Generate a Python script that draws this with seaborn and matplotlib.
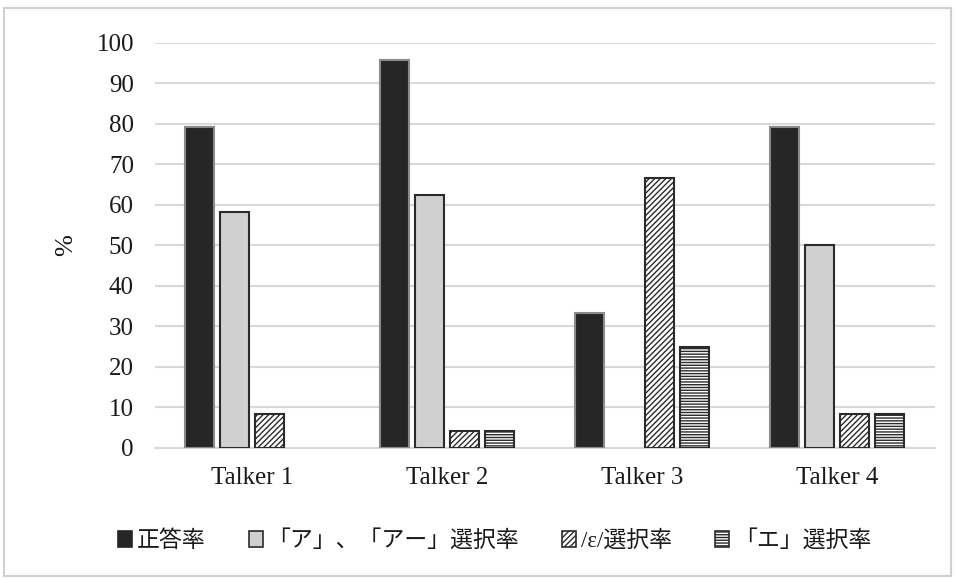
import matplotlib
matplotlib.use("Agg")
import matplotlib.pyplot as plt
from matplotlib.patches import Patch, Rectangle
import seaborn as sns
import pandas as pd

talkers = ["Talker 1", "Talker 2", "Talker 3", "Talker 4"]
series = ["正答率", "「ア」、「アー」選択率", "/ε/選択率", "「エ」選択率"]
correct = [79.2, 95.8, 33.3, 79.2]
a_rate = [58.3, 62.5, 0.0, 50.0]
eps_rate = [8.3, 4.2, 66.7, 8.3]
e_rate = [0.0, 4.2, 25.0, 8.3]
y_ticks = list(range(0, 101, 10))

values = [correct, a_rate, eps_rate, e_rate]
rows = []
for s, vals in zip(series, values):
    for t, v in zip(talkers, vals):
        rows.append({"talker": t, "series": s, "value": v})
df = pd.DataFrame(rows)

sns.set_theme(style="white")
plt.rcParams["font.family"] = ["Liberation Serif", "Noto Sans CJK JP"]
plt.rcParams["hatch.linewidth"] = 1.0

fills = ["#262626", "#d0d0d0", "white", "white"]
edges = ["#8a8a8a", "#2b2b2b", "#2b2b2b", "#2b2b2b"]
hatches = [None, None, "//////", "------"]

fig = plt.figure(figsize=(9.55, 5.78), dpi=100)
ax = fig.add_axes([0.162, 0.225, 0.817, 0.701])

sns.barplot(data=df, x="talker", y="value", hue="series", order=talkers,
            hue_order=series, width=0.718, gap=0.17, palette=fills,
            errorbar=None, legend=False, ax=ax, zorder=3)

for i, container in enumerate(ax.containers):
    for bar, v in zip(container, values[i]):
        bar.set_facecolor(fills[i])
        bar.set_edgecolor(edges[i])
        bar.set_linewidth(1.5 if v > 0 else 0)
        if hatches[i]:
            bar.set_hatch(hatches[i])

ax.set_ylim(0, 100)
ax.set_yticks(y_ticks)
ax.set_xlim(-0.5, 3.5)
ax.yaxis.grid(True, color="#d9d9d9", linewidth=1.5, zorder=0)
ax.set_axisbelow(True)
for side in ["top", "right", "left"]:
    ax.spines[side].set_visible(False)
ax.spines["bottom"].set_color("#d9d9d9")
ax.spines["bottom"].set_linewidth(1.5)
ax.tick_params(axis="both", length=0, labelsize=18, colors="#1a1a1a")
ax.tick_params(axis="y", pad=15)
ax.tick_params(axis="x", pad=14)
ax.set_xlabel("")
ax.set_ylabel("%", fontsize=19, color="#1a1a1a", labelpad=14)

handles = [Patch(facecolor=fills[i], edgecolor=edges[i] if i else "#262626",
                 hatch=hatches[i], linewidth=1.2) for i in range(4)]
fig.legend(handles, series, loc="center", bbox_to_anchor=(0.518, 0.064),
           ncol=4, frameon=False, fontsize=16.5, handlelength=0.6,
           handleheight=0.75, handletextpad=0.2, columnspacing=1.9,
           labelcolor="#1a1a1a")

fig.patches.append(Rectangle((0.004, 0.004), 0.992, 0.982, transform=fig.transFigure,
                             fill=False, edgecolor="#d0d0d0", linewidth=1.5))

fig.savefig("out.png", dpi=100)
